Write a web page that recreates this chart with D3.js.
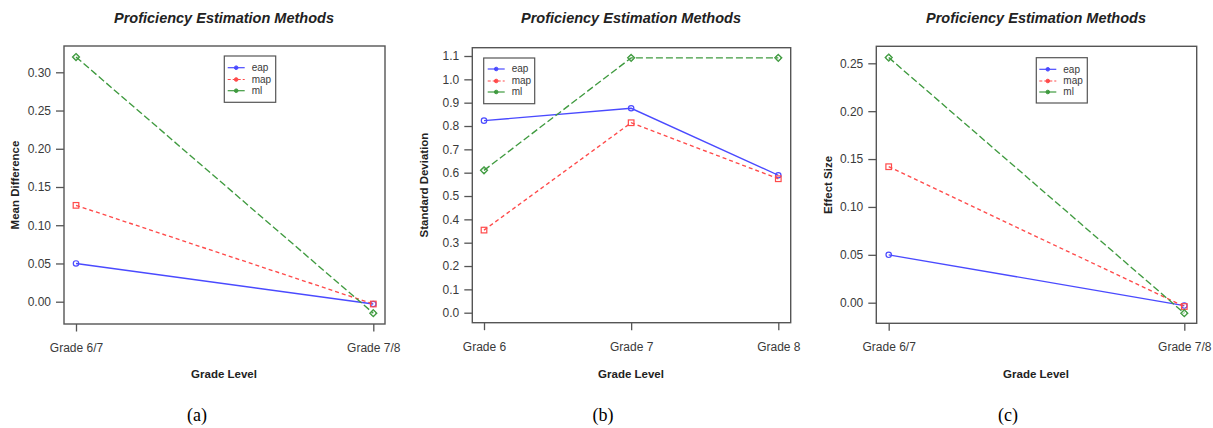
<!DOCTYPE html>
<html>
<head>
<meta charset="utf-8">
<script src="https://cdn.jsdelivr.net/npm/d3@7"></script>
<style>
  body { margin: 0; background: #fff; }
  svg { display: block; font-family: "Liberation Sans", Arial, sans-serif; }
  .tick text { fill: #3a3a3a; font-size: 12px; }
  .tick line { stroke: #555; stroke-width: 1.3; }
</style>
</head>
<body>
<svg id="chart" width="1213" height="428"></svg>
<script>
// series labels
var methods = ["eap", "map", "ml"];

// panel (a): mean difference
var catsA = ["Grade 6/7", "Grade 7/8"];
var eapA = [0.050, -0.003];
var mapA = [0.126, -0.003];
var mlA  = [0.320, -0.015];
var ticksA = [0.00, 0.05, 0.10, 0.15, 0.20, 0.25, 0.30];

// panel (b): standard deviation
var catsB = ["Grade 6", "Grade 7", "Grade 8"];
var eapB = [0.823, 0.876, 0.589];
var mapB = [0.354, 0.814, 0.574];
var mlB  = [0.610, 1.092, 1.092];
var ticksB = [0.0, 0.1, 0.2, 0.3, 0.4, 0.5, 0.6, 0.7, 0.8, 0.9, 1.0, 1.1];

// panel (c): effect size
var catsC = ["Grade 6/7", "Grade 7/8"];
var eapC = [0.050, -0.003];
var mapC = [0.142, -0.004];
var mlC  = [0.256, -0.011];
var ticksC = [0.00, 0.05, 0.10, 0.15, 0.20, 0.25];

var colors = { eap: "#4a4aff", map: "#ff4a4a", ml: "#3f9a3f" };
var dashes = { eap: null, map: "4,3", ml: "7,3" };

var svg = d3.select("#chart");

var panels = [
  { cats: catsA, series: [eapA, mapA, mlA], ticks: ticksA, fmt: d3.format(".2f"),
    ylab: "Mean Difference", tag: "(a)",
    box: [64, 46, 385, 324], xr: [76, 373.3], yd: [0, 0.30], yr: [301.7, 72.3],
    leg: [224.3, 56, 275.7, 102.3], lx: 227.7, ly: [67.7, 79.5, 90.7], cx: 224, ylx: 15, tagx: 197 },
  { cats: catsB, series: [eapB, mapB, mlB], ticks: ticksB, fmt: d3.format(".1f"),
    ylab: "Standard Deviation", tag: "(b)",
    box: [472.3, 47.7, 790.7, 322.7], xr: [484, 778.3], yd: [0, 1.1], yr: [312.7, 56],
    leg: [483.7, 58, 534.7, 103.7], lx: 487.7, ly: [69, 81, 92], cx: 631, ylx: 424, tagx: 603 },
  { cats: catsC, series: [eapC, mapC, mlC], ticks: ticksC, fmt: d3.format(".2f"),
    ylab: "Effect Size", tag: "(c)",
    box: [876.3, 46.3, 1196.7, 323.3], xr: [888.7, 1184.3], yd: [0, 0.25], yr: [302.7, 63.3],
    leg: [1036.3, 57.7, 1087.3, 103], lx: 1039.3, ly: [69.3, 81, 92], cx: 1036, ylx: 828.3, tagx: 1008 }
];

function marker(g, m, x, y, col) {
  if (m == "eap") {
    g.append("circle").attr("cx", x).attr("cy", y).attr("r", 2.7)
      .attr("fill", "none").attr("stroke", col).attr("stroke-width", 1.2);
  } else if (m == "map") {
    g.append("rect").attr("x", x - 2.8).attr("y", y - 2.8).attr("width", 5.6).attr("height", 5.6)
      .attr("fill", "none").attr("stroke", col).attr("stroke-width", 1.2);
  } else {
    g.append("path").attr("d", "M" + x + "," + (y - 3.6) + "L" + (x + 3.6) + "," + y + "L" + x + "," + (y + 3.6) + "L" + (x - 3.6) + "," + y + "Z")
      .attr("fill", "none").attr("stroke", col).attr("stroke-width", 1.1);
    g.append("circle").attr("cx", x).attr("cy", y).attr("r", 2.4)
      .attr("fill", "none").attr("stroke", col).attr("stroke-width", 0.8);
  }
}

panels.forEach(function (p) {
  var g = svg.append("g");
  var x = d3.scalePoint().domain(p.cats).range(p.xr);
  var y = d3.scaleLinear().domain(p.yd).range(p.yr);

  g.append("text").attr("x", p.cx).attr("y", 22.5)
    .attr("text-anchor", "middle").attr("font-size", "14.5px")
    .attr("font-weight", "bold").attr("font-style", "italic").attr("fill", "#222")
    .text("Proficiency Estimation Methods");

  var ya = g.append("g").attr("transform", "translate(" + (p.box[0]) + ",0)")
    .call(d3.axisLeft(y).tickValues(p.ticks).tickFormat(p.fmt).tickSize(8).tickPadding(5));
  ya.select(".domain").remove();

  var xa = g.append("g").attr("transform", "translate(0," + p.box[3] + ")")
    .call(d3.axisBottom(x).tickSize(7.5).tickPadding(12));
  xa.select(".domain").remove();

  g.append("rect").attr("x", p.box[0]).attr("y", p.box[1])
    .attr("width", p.box[2] - p.box[0]).attr("height", p.box[3] - p.box[1])
    .attr("fill", "none").attr("stroke", "#555").attr("stroke-width", 1.4);

  var line = d3.line().x(function (d, i) { return x(p.cats[i]); }).y(function (d) { return y(d); });

  methods.forEach(function (m, k) {
    var vals = p.series[k];
    g.append("path").datum(vals).attr("d", line)
      .attr("fill", "none").attr("stroke", colors[m]).attr("stroke-width", 1.35)
      .attr("stroke-dasharray", dashes[m]);
    vals.forEach(function (v, i) { marker(g, m, x(p.cats[i]), y(v), colors[m]); });
  });

  // legend
  g.append("rect").attr("x", p.leg[0]).attr("y", p.leg[1])
    .attr("width", p.leg[2] - p.leg[0]).attr("height", p.leg[3] - p.leg[1])
    .attr("fill", "#fff").attr("stroke", "#555").attr("stroke-width", 1.2);
  methods.forEach(function (m, k) {
    var ly = p.ly[k];
    g.append("line").attr("x1", p.lx).attr("x2", p.lx + 17).attr("y1", ly).attr("y2", ly)
      .attr("stroke", colors[m]).attr("stroke-width", 1.2).attr("stroke-dasharray", m == "map" ? "3,2" : null);
    g.append("circle").attr("cx", p.lx + 8.5).attr("cy", ly).attr("r", 1.8)
      .attr("fill", colors[m]).attr("stroke", colors[m]);
    g.append("text").attr("x", p.lx + 24).attr("y", ly + 3.4)
      .attr("font-size", "10px").attr("fill", "#3a3a3a").text(m);
  });

  g.append("text").attr("x", p.cx).attr("y", 378)
    .attr("text-anchor", "middle").attr("font-size", "11.5px").attr("font-weight", "bold").attr("fill", "#222")
    .text("Grade Level");

  g.append("text").attr("transform", "translate(" + (p.ylx + 4) + ",185) rotate(-90)")
    .attr("text-anchor", "middle").attr("font-size", "11.5px").attr("font-weight", "bold").attr("fill", "#222")
    .text(p.ylab);

  g.append("text").attr("x", p.tagx).attr("y", 421)
    .attr("text-anchor", "middle").attr("font-size", "18px")
    .attr("font-family", "'Liberation Serif', 'Times New Roman', serif").attr("fill", "#000")
    .text(p.tag);
});
</script>
</body>
</html>
